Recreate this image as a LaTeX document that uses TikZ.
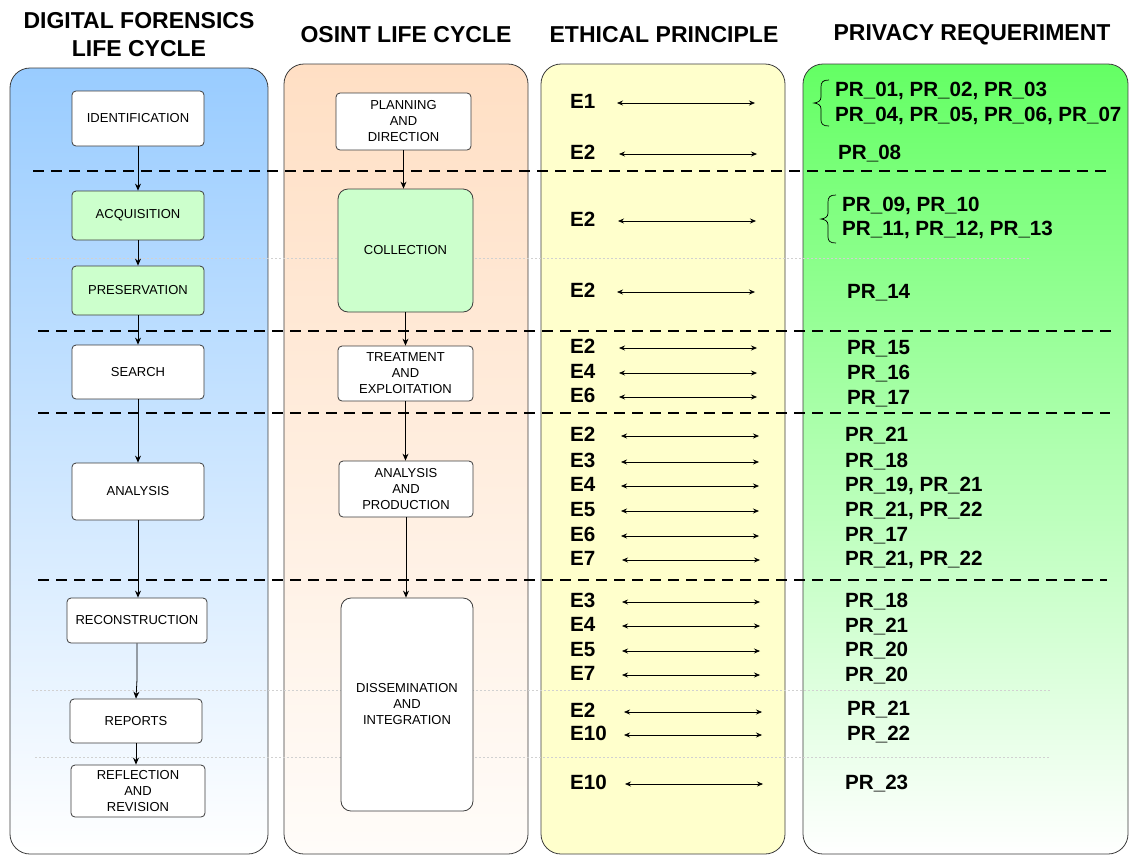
\documentclass[tikz,border=0pt]{standalone}
\usepackage{fontspec}
\setmainfont{Liberation Sans}
\usetikzlibrary{arrows.meta}

\definecolor{dfblue}{RGB}{153,204,255}
\definecolor{ospeach}{RGB}{255,223,196}
\definecolor{ospeachlo}{RGB}{255,252,249}
\definecolor{etyellow}{RGB}{255,255,204}
\definecolor{prgreen}{RGB}{100,255,100}
\definecolor{stagegreen}{RGB}{204,255,204}
\definecolor{edge}{RGB}{60,60,60}

\begin{document}
\begin{tikzpicture}[x=1pt,y=-1pt,
  panel/.style={draw=edge, line width=0.8pt, rounded corners=20pt},
  stage/.style={draw=edge, line width=0.8pt, rounded corners=4pt, fill=white,
    align=center, font=\fontsize{13}{16}\selectfont, inner sep=0pt},
  kept/.style={stage, fill=stagegreen},
  tall/.style={rounded corners=10pt},
  flow/.style={-{Stealth[length=7pt,width=6pt]}, line width=0.8pt},
  link/.style={{Stealth[length=6pt,width=5pt]}-{Stealth[length=6pt,width=5pt]}, line width=0.7pt},
  band/.style={dash pattern=on 11pt off 7pt, line width=2.6pt},
  faint/.style={draw=black!18, dash pattern=on 2pt off 2pt, line width=0.7pt},
  head/.style={font=\fontsize{23}{28}\selectfont\bfseries, align=center},
  eth/.style={font=\fontsize{20.6}{24}\selectfont\bfseries, anchor=west, inner sep=0pt},
  req/.style={font=\fontsize{20.6}{24.5}\selectfont\bfseries, anchor=west, inner sep=0pt, align=left},
  curly/.style={line width=0.7pt}
]
\useasboundingbox (0,0) rectangle (1129,855);

% column panels
\path[panel, top color=dfblue, bottom color=white] (10,68) rectangle (268,854);
\path[panel, top color=ospeach, bottom color=ospeachlo] (284,64) rectangle (528,854);
\path[panel, fill=etyellow] (541,64) rectangle (785,854);
\path[panel, top color=prgreen, bottom color=white] (803,64) rectangle (1128,854);

% column headings
\node[head] (hdf) at (139,35) {DIGITAL FORENSICS\\LIFE CYCLE};
\node[head] (hos) at (406,35) {OSINT LIFE CYCLE};
\node[head] (het) at (664,35) {ETHICAL PRINCIPLE};
\node[head] (hpr) at (972,35) {PRIVACY REQUERIMENT};

% light separators inside a phase
\draw[faint] (27,258) -- (1030,258);
\draw[faint] (32,690) -- (1050,690);
\draw[faint] (35,757) -- (1050,757);

% digital forensics stages
\node[stage, minimum width=132pt, minimum height=55pt] (ident) at (138,118.5) {IDENTIFICATION};
\node[kept,  minimum width=132pt, minimum height=49pt] (acq)   at (138,215.5) {ACQUISITION};
\node[kept,  minimum width=132pt, minimum height=49pt] (pres)  at (138,290.5) {PRESERVATION};
\node[stage, minimum width=132pt, minimum height=54pt] (srch)  at (138,372)   {SEARCH};
\node[stage, minimum width=132pt, minimum height=57pt] (anl)   at (138,491.5) {ANALYSIS};
\node[stage, minimum width=140pt, minimum height=45pt] (recon) at (137,620.5) {RECONSTRUCTION};
\node[stage, minimum width=132pt, minimum height=44pt] (rep)   at (136,721)   {REPORTS};
\node[stage, minimum width=134pt, minimum height=52pt] (refl)  at (138,791)   {REFLECTION\\AND\\REVISION};

\draw[flow] (ident) -- (acq);
\draw[flow] (acq) -- (pres);
\draw[flow] (pres) -- (srch);
\draw[flow] (srch) -- (anl);
\draw[flow] (anl.south) -- (recon.north -| anl.south);
\draw[flow] (recon.south) -- ++(0,36) -- (rep.north);
\draw[flow] (rep.south) -- (refl.north -| rep.south);

% OSINT stages
\node[stage, minimum width=135pt, minimum height=57pt] (plan) at (403.5,121.5) {PLANNING\\AND\\DIRECTION};
\node[kept, tall, minimum width=135pt, minimum height=123pt] (coll) at (405.5,250.5) {COLLECTION};
\node[stage, minimum width=135pt, minimum height=55pt] (treat) at (405.5,373.5) {TREATMENT\\AND\\EXPLOITATION};
\node[stage, minimum width=134pt, minimum height=56pt] (aprod) at (406,489) {ANALYSIS\\AND\\PRODUCTION};
\node[stage, tall, minimum width=132pt, minimum height=213pt] (diss) at (407,704.5) {DISSEMINATION\\AND\\INTEGRATION};

\draw[flow] (plan.south) -- (coll.north -| plan.south);
\draw[flow] (coll.south) -- (treat.north -| coll.south);
\draw[flow] (treat.south) -- (aprod.north -| treat.south);
\draw[flow] (aprod.south) -- (diss.north -| aprod.south);

% phase boundaries
\draw[band] (33,171) -- (1108,171);
\draw[band] (38,331) -- (1112,331);
\draw[band] (38,413) -- (1110,413);
\draw[band] (38,580) -- (1107,580);

% ethical principles and their links
\foreach \n/\y/\xs/\e in {1/103/617/E1, 2/154/619/E2, 3/221/618/E2, 4/292/617/E2,
    5/348/619/E2, 6/373/619/E4, 7/397/619/E6,
    8/436/621/E2, 9/462/621/E3, 10/486/621/E4, 11/511/621/E5, 12/536/621/E6, 13/560/622/E7,
    14/602/622/E3, 15/626/622/E4, 16/651/622/E5, 17/675/622/E7,
    18/712/624/E2, 19/735/624/E10, 20/784/625/E10} {
  \node[eth] (e\n) at (570,\y-1.5) {\e};
  \coordinate (l\n) at (\xs,\y);
  \coordinate (r\n) at (\xs+138,\y);
  \draw[link] (l\n) -- (r\n);
}

% privacy requirements
\node[req] (p1) at (835,103.5) {PR\_01, PR\_02, PR\_03\\PR\_04, PR\_05, PR\_06, PR\_07};
\node[req] (p3) at (842,218) {PR\_09, PR\_10\\PR\_11, PR\_12, PR\_13};
\foreach \n/\y/\x/\p in {2/152/838/PR\_08, 4/291/847/PR\_14,
    5/347/847/PR\_15, 6/372/847/PR\_16, 7/397/847/PR\_17,
    8/434/845/PR\_21, 9/460/845/PR\_18, 10/484/845/{PR\_19, PR\_21},
    11/509/845/{PR\_21, PR\_22}, 12/534/845/PR\_17, 13/558/845/{PR\_21, PR\_22},
    14/600/845/PR\_18, 15/625/845/PR\_21, 16/649/845/PR\_20, 17/674/845/PR\_20,
    18/708/847/PR\_21, 19/733/847/PR\_22, 20/782/845/PR\_23} {
  \node[req] (p\n) at (\x,\y+1.8) {\p};
}

% braces grouping the multi-line requirement lists
\draw[curly] (829,80) .. controls (823,80) and (821,82) .. (821,87) -- (821,97)
  .. controls (821,101) and (818,102.5) .. (814,103)
  .. controls (818,103.5) and (821,105) .. (821,109) -- (821,120)
  .. controls (821,124) and (823,126) .. (829,126);
\draw[curly] (836,195) .. controls (830,195) and (828,197) .. (828,202) -- (828,213)
  .. controls (828,217) and (825,218.5) .. (821,219)
  .. controls (825,219.5) and (828,221) .. (828,225) -- (828,237)
  .. controls (828,241) and (830,243) .. (836,243);
\end{tikzpicture}
\end{document}
